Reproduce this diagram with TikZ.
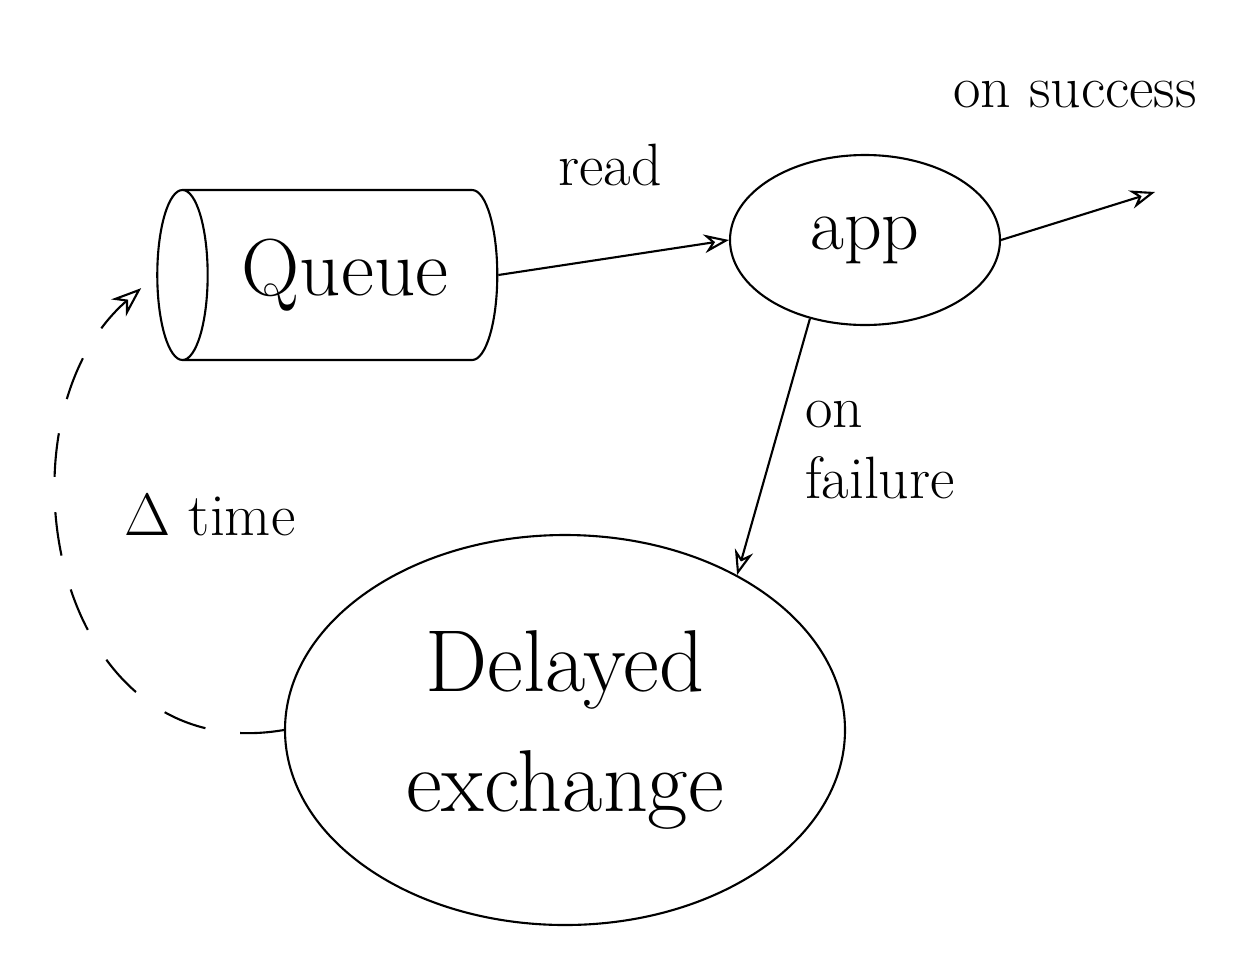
\RequirePackage{fix-cm}
\documentclass[tikz,border=0pt]{standalone}
\usepackage{fontspec}
\usepackage{tikz}
\usetikzlibrary{shapes, arrows.meta, positioning}
\tikzstyle{store} = [cylinder, shape border rotate=180, shape aspect=0.6, minimum width=3.4cm, minimum height=6.8cm, draw=black, text centered, font=\fontsize{46}{50}\selectfont]
\tikzstyle{proc} = [ellipse, minimum width=5.4cm, minimum height=3.4cm, draw=black, text centered, font=\fontsize{42}{46}\selectfont]
\tikzstyle{xchg} = [ellipse, minimum width=11.2cm, minimum height=7.8cm, draw=black, align=center, font=\fontsize{50}{68}\selectfont]
\tikzstyle{note} = [align=left, font=\fontsize{34}{40}\selectfont]

\begin{document}
\begin{tikzpicture}[node distance=3cm, line width=1.2pt]
\useasboundingbox (0,0) rectangle (25.12,-19.48);
\node (queue) [store] at (6.9,-5.5) {Queue};
\node (app) [proc, right of=queue, xshift=7.4cm, yshift=0.7cm] {app};
\node (delay) [xchg, below of=queue, xshift=4.4cm, yshift=-6.1cm] {Delayed\\exchange};
\node (read) [note, right of=queue, xshift=2.3cm, yshift=2.2cm] {read};
\node (success) [note, right of=app, xshift=1.2cm, yshift=2.9cm] {on success};
\node (failure) [note, below of=app, xshift=0.3cm, yshift=-1.2cm] {on\\failure};
\node (dtime) [note, below of=queue, xshift=-2.7cm, yshift=-1.8cm] {$\Delta$ time};
\coordinate (out) at (23.1,-3.84);
\draw [-{Stealth[length=5mm, open]}] (queue.east) -- (app.west);
\draw [-{Stealth[length=5mm, open]}] (app.235) -- (delay.42);
\draw [-{Stealth[length=5mm, open]}] (app.east) -- (out);
\draw [-{Stealth[length=6mm, open]}, dash pattern=on 25pt off 20pt, shorten >=0.4cm] (delay.west) .. controls (1.0,-15.4) and (-0.2,-8.4) .. (queue.west);
\end{tikzpicture}
\end{document}
